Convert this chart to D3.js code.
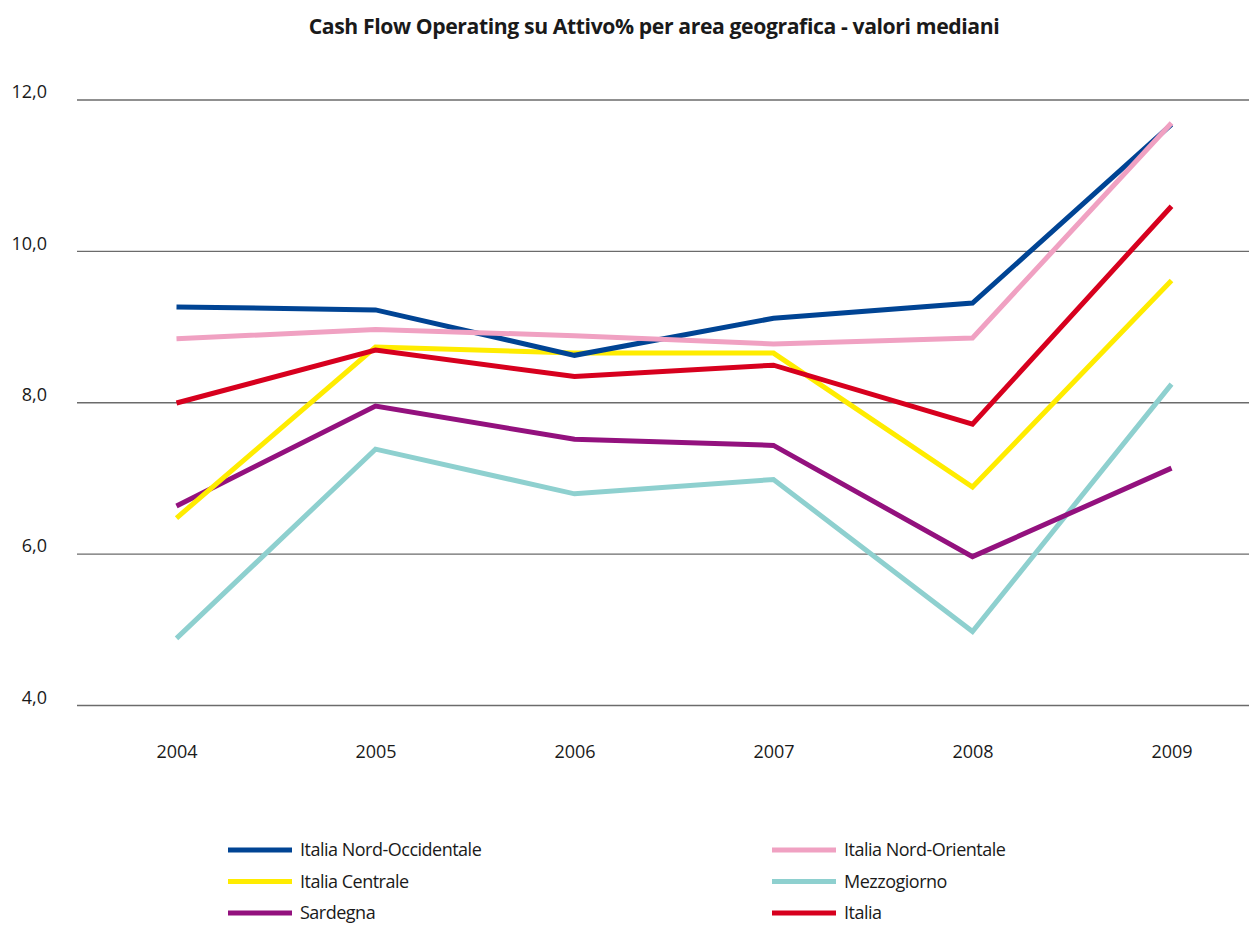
<!DOCTYPE html>
<html>
<head>
<meta charset="utf-8">
<script src="https://cdn.jsdelivr.net/npm/d3@7"></script>
<style>
  body { margin: 0; background: #fff; }
  svg text { font-family: "Open Sans", sans-serif; fill: #1a1a1a; }
</style>
</head>
<body>
<div id="chart"></div>
<script>
const years = ['2004', '2005', '2006', '2007', '2008', '2009']
const yTicks = [4, 6, 8, 10, 12]

const nordOcc = [9.26, 9.22, 8.62, 9.11, 9.31, 11.67]
const nordOr = [8.84, 8.96, 8.88, 8.77, 8.85, 11.69]
const centrale = [6.47, 8.73, 8.65, 8.65, 6.88, 9.61]
const mezzogiorno = [4.88, 7.38, 6.79, 6.98, 4.97, 8.24]
const sardegna = [6.63, 7.95, 7.51, 7.43, 5.96, 7.13]
const italia = [7.99, 8.69, 8.34, 8.49, 7.71, 10.59]

const seriesNames = ['Italia Nord-Occidentale', 'Italia Nord-Orientale', 'Italia Centrale', 'Mezzogiorno', 'Sardegna', 'Italia']
const seriesValues = [nordOcc, nordOr, centrale, mezzogiorno, sardegna, italia]
const colors = ['#004494', '#f0a1c2', '#ffec00', '#8ed0cf', '#93117e', '#d7001e']
// draw order: which line sits on top
const drawOrder = [3, 4, 2, 5, 0, 1]

const width = 1249
const height = 925

const svg = d3.select('#chart')
  .append('svg')
  .attr('width', width)
  .attr('height', height)

const x = d3.scalePoint()
  .domain(years)
  .range([176.5, 1171.5])

const y = d3.scaleLinear()
  .domain([4, 12])
  .range([705, 99.5])

svg.append('text')
  .attr('x', 654)
  .attr('y', 34)
  .attr('text-anchor', 'middle')
  .style('font-size', '21.2px')
  .style('font-weight', 'bold')
  .style('letter-spacing', '-0.4px')
  .text('Cash Flow Operating su Attivo% per area geografica - valori mediani')

// gridlines + y labels
const yAxis = d3.axisLeft(y)
  .tickValues(yTicks)
  .tickSize(-(width - 77))
  .tickPadding(30)
  .tickFormat(d => d3.format('.1f')(d).replace('.', ','))

svg.append('g')
  .attr('transform', 'translate(77,0)')
  .call(yAxis)
  .call(g => g.select('.domain').remove())
  .call(g => g.selectAll('.tick line').attr('stroke', '#6b6b6b').attr('stroke-width', 1.3))
  .call(g => g.selectAll('.tick text').style('font-size', '18px').attr('dy', '-0.1em').attr('x', -30))

// x labels
const xAxis = d3.axisBottom(x).tickSize(0).tickPadding(0)

svg.append('g')
  .attr('transform', 'translate(0,745)')
  .call(xAxis)
  .call(g => g.select('.domain').remove())
  .call(g => g.selectAll('.tick text').style('font-size', '18px'))

const line = d3.line()
  .x((d, i) => x(years[i]))
  .y(d => y(d))

svg.append('g')
  .selectAll('path')
  .data(drawOrder)
  .enter().append('path')
  .attr('d', i => line(seriesValues[i]))
  .attr('fill', 'none')
  .attr('stroke', i => colors[i])
  .attr('stroke-width', 5)
  .attr('stroke-linejoin', 'miter')

// legend, two columns
const legend = svg.append('g')
  .selectAll('g')
  .data(seriesNames)
  .enter().append('g')
  .attr('transform', (d, i) => `translate(${i % 2 === 0 ? 228 : 772},${850 + Math.floor(i / 2) * 31.5})`)

legend.append('line')
  .attr('x1', 0)
  .attr('x2', 64)
  .attr('stroke', (d, i) => colors[i])
  .attr('stroke-width', 5)

legend.append('text')
  .attr('x', 72)
  .attr('dy', '0.35em')
  .style('font-size', '18px')
  .style('letter-spacing', '-0.5px')
  .text(d => d)
</script>
</body>
</html>
